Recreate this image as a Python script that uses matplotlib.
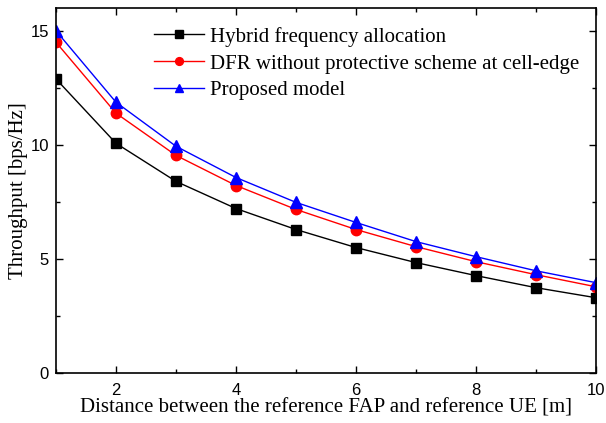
import matplotlib
matplotlib.use("Agg")
import matplotlib.pyplot as plt
from matplotlib.ticker import MultipleLocator

distance = [1, 2, 3, 4, 5, 6, 7, 8, 9, 10]
hybrid = [12.89, 10.07, 8.40, 7.21, 6.29, 5.50, 4.84, 4.27, 3.74, 3.30]
dfr = [14.50, 11.39, 9.54, 8.22, 7.17, 6.29, 5.54, 4.88, 4.31, 3.78]
proposed = [15.00, 11.87, 9.94, 8.57, 7.48, 6.60, 5.76, 5.10, 4.48, 3.96]
labels = ["Hybrid frequency allocation",
          "DFR without protective scheme at cell-edge",
          "Proposed model"]

fig = plt.figure(figsize=(6.06, 4.23), dpi=100)
ax = fig.add_axes([0.0924, 0.1182, 0.8911, 0.8628])

ax.plot(distance, hybrid, color="black", marker="s", markersize=7, lw=1, label=labels[0])
ax.plot(distance, dfr, color="red", marker="o", markersize=7.5, lw=1, label=labels[1])
ax.plot(distance, proposed, color="blue", marker="^", markersize=8, lw=1, label=labels[2])

ax.set_xlim(1, 10)
ax.set_ylim(0, 16)
ax.xaxis.set_major_locator(MultipleLocator(2))
ax.xaxis.set_minor_locator(MultipleLocator(1))
ax.yaxis.set_major_locator(MultipleLocator(5))
ax.yaxis.set_minor_locator(MultipleLocator(2.5))
ax.tick_params(which="both", direction="in", top=True, right=True, width=1.0)
ax.tick_params(which="major", length=5, labelsize=12)
ax.tick_params(axis="x", which="major", pad=7)
ax.tick_params(axis="y", which="major", pad=5)
ax.tick_params(which="minor", length=3)
for lab in ax.get_xticklabels() + ax.get_yticklabels():
    lab.set_family("Liberation Sans")
for s in ax.spines.values():
    s.set_linewidth(1.2)

ax.set_xlabel("Distance between the reference FAP and reference UE [m]",
              family="Liberation Serif", fontsize=15, labelpad=0.5)
ax.set_ylabel("Throughput [bps/Hz]", family="Liberation Serif", fontsize=15, labelpad=2)

leg = ax.legend(loc="upper left", bbox_to_anchor=(0.147, 1.0), frameon=False,
                prop={"family": "Liberation Serif", "size": 15},
                handlelength=2.4, handletextpad=0.3, labelspacing=0.35, markerscale=0.75)

fig.savefig("out.png", dpi=100)
